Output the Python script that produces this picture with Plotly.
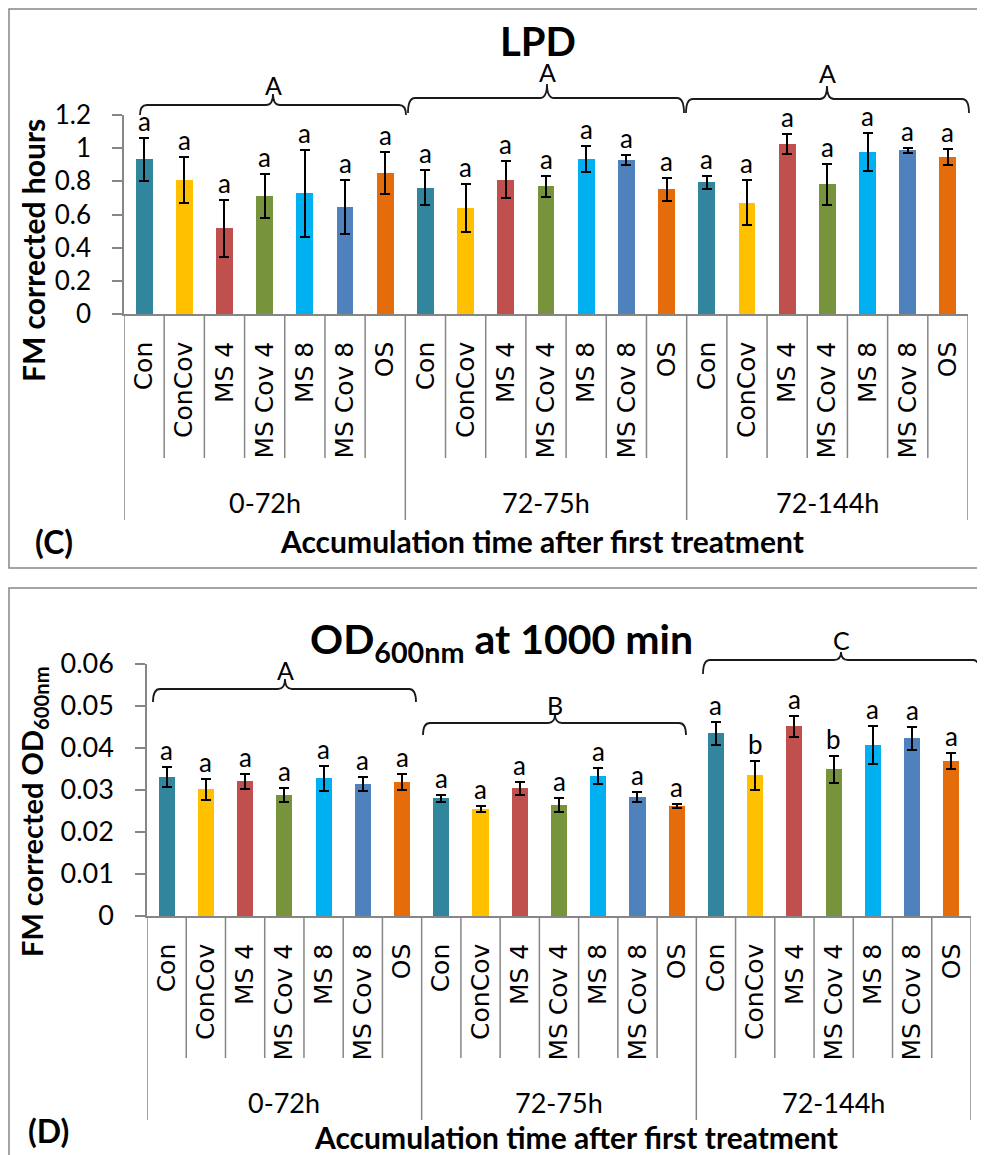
import plotly.graph_objects as go

# ---------------- data ----------------
categories = ["Con", "ConCov", "MS 4", "MS Cov 4", "MS 8", "MS Cov 8", "OS"]
groups = ["0-72h", "72-75h", "72-144h"]
colors = ["#31859C", "#FFC000", "#C0504D", "#77933C", "#00B0F0", "#4F81BD", "#E46C0A"]

lpd_mean = [0.932, 0.81, 0.516, 0.714, 0.727, 0.646, 0.85,
            0.762, 0.637, 0.811, 0.77, 0.936, 0.93, 0.751,
            0.793, 0.671, 1.026, 0.782, 0.978, 0.986, 0.949]
lpd_err = [0.127, 0.138, 0.17, 0.133, 0.26, 0.163, 0.127,
           0.105, 0.145, 0.112, 0.063, 0.078, 0.029, 0.07,
           0.04, 0.135, 0.06, 0.125, 0.113, 0.016, 0.048]
lpd_letters = ["a"] * 21
lpd_group_letters = ["A", "A", "A"]

od_mean = [0.0330, 0.0302, 0.0321, 0.0288, 0.0328, 0.0314, 0.0319,
           0.0280, 0.0254, 0.0304, 0.0264, 0.0333, 0.0283, 0.0262,
           0.0435, 0.0335, 0.0452, 0.0349, 0.0407, 0.0423, 0.0369]
od_err = [0.0024, 0.0025, 0.0018, 0.0016, 0.0030, 0.0017, 0.0019,
          0.0009, 0.0007, 0.0016, 0.0016, 0.0019, 0.0012, 0.0005,
          0.0027, 0.0034, 0.0025, 0.0033, 0.0045, 0.0028, 0.0020]
od_letters = ["a"] * 7 + ["a"] * 7 + ["a", "b", "a", "b", "a", "a", "a"]
od_group_letters = ["A", "B", "C"]

lpd_ticks = [0, 0.2, 0.4, 0.6, 0.8, 1, 1.2]
lpd_ticktext = ["0", "0.2", "0.4", "0.6", "0.8", "1", "1.2"]
od_ticks = [0, 0.01, 0.02, 0.03, 0.04, 0.05, 0.06]
od_ticktext = ["0", "0.01", "0.02", "0.03", "0.04", "0.05", "0.06"]

# ---------------- layout helpers ----------------
W, H = 985, 1155
OFF = 8  # page body margin: figure starts 8px in from the top-left of the window
def px(x):
    return (x - OFF) / W
def py(y):
    return 1 - (y - OFF) / H

CAL = "Lato, 'Open Sans', sans-serif"
VER = "'DejaVu Sans', Verdana, sans-serif"
GREY = "#868686"

n = len(categories) * len(groups)
xs = list(range(n))
cat_labels = categories * len(groups)
bar_colors = colors * len(groups)

fig = go.Figure()
fig.add_trace(go.Bar(x=xs, y=lpd_mean, width=0.42, marker=dict(color=bar_colors, line=dict(width=0)),
                     error_y=dict(type="data", array=lpd_err, visible=True, color="black", thickness=2, width=5),
                     xaxis="x", yaxis="y", showlegend=False))
fig.add_trace(go.Bar(x=xs, y=od_mean, width=0.41, marker=dict(color=bar_colors, line=dict(width=0)),
                     error_y=dict(type="data", array=od_err, visible=True, color="black", thickness=2, width=5),
                     xaxis="x2", yaxis="y2", showlegend=False))

# panel geometry (pixels in the window)
P1 = dict(x0=124, x1=968, y0=115, y1=314, tick_end=458, div_end=520)
P2 = dict(x0=147, x1=971, y0=664, y1=916, tick_end=1058, div_end=1120)

xcommon = dict(range=[-0.5, n - 0.5], tickmode="array", tickvals=xs, ticktext=cat_labels,
               tickangle=-90, tickfont=dict(family=VER, size=25, color="black"),
               showline=True, linecolor=GREY, linewidth=1.5, ticks="", showgrid=False,
               zeroline=False, fixedrange=True, ticklabelstandoff=16, automargin=False)
ycommon = dict(showline=True, linecolor=GREY, linewidth=1.5, ticks="outside", ticklen=10,
               tickcolor=GREY, tickwidth=1.5, showgrid=False, zeroline=False, automargin=False,
               tickfont=dict(family=CAL, size=26, color="black"), ticklabelstandoff=16)

fig.update_layout(
    template="none",
    width=W, height=H, margin=dict(l=0, r=0, t=0, b=0, pad=0), autosize=False,
    paper_bgcolor="white", plot_bgcolor="white", bargap=0, showlegend=False,
    xaxis=dict(domain=[px(P1["x0"]), px(P1["x1"])], anchor="y", **xcommon),
    yaxis=dict(domain=[py(P1["y1"]), py(P1["y0"])], anchor="x", range=[0, 1.2],
               tickvals=lpd_ticks, ticktext=lpd_ticktext, **ycommon),
    xaxis2=dict(domain=[px(P2["x0"]), px(P2["x1"])], anchor="y2", **xcommon),
    yaxis2=dict(domain=[py(P2["y1"]), py(P2["y0"])], anchor="x2", range=[0, 0.06],
                tickvals=od_ticks, ticktext=od_ticktext, **ycommon),
)
fig.update_layout(yaxis2_tickfont_size=27)

shapes = []
annotations = []

def ann(x, y, text, size, family=CAL, angle=0, xref="paper", yref="paper", yanchor="middle"):
    annotations.append(dict(xref=xref, yref=yref, x=x, y=y, text=text, showarrow=False, textangle=angle,
                            xanchor="center", yanchor=yanchor, borderpad=0,
                            font=dict(family=family, size=size, color="black")))

# panel borders (left edges kept just inside the drawable area)
shapes.append(dict(type="rect", xref="paper", yref="paper", x0=px(9), x1=px(1000), y0=py(9), y1=py(568),
                   line=dict(color=GREY, width=1.5), layer="below"))
shapes.append(dict(type="rect", xref="paper", yref="paper", x0=px(9), x1=px(1000), y0=py(588), y1=py(1175),
                   line=dict(color=GREY, width=1.5), layer="below"))

def category_frame(P, xref):
    for k in range(n + 1):
        is_div = (k % len(categories) == 0)
        shapes.append(dict(type="line", xref=xref, yref="paper", x0=k - 0.5, x1=k - 0.5,
                           y0=py(P["y1"]), y1=py(P["div_end"] if is_div else P["tick_end"]),
                           line=dict(color=GREY, width=1.5)))
    for g, name in enumerate(groups):
        ann(g * len(categories) + 3, py((P["tick_end"] + P["div_end"]) / 2 + 13), name, 27, xref=xref)

category_frame(P1, "x")
category_frame(P2, "x2")

def brace(x0, x1, xm, yline, yend, ypeak, r=7):
    X = px
    Y = py
    return (f"M {X(x0)},{Y(yend)} Q {X(x0)},{Y(yline)} {X(x0 + r)},{Y(yline)} "
            f"L {X(xm - r)},{Y(yline)} Q {X(xm)},{Y(yline)} {X(xm)},{Y(ypeak)} "
            f"Q {X(xm)},{Y(yline)} {X(xm + r)},{Y(yline)} "
            f"L {X(x1 - r)},{Y(yline)} Q {X(x1)},{Y(yline)} {X(x1)},{Y(yend)}")

top_braces = [(140, 406, 273, 105, 115, 94, 85), (408, 684, 547, 98, 113, 84, 72), (686, 969, 827, 99, 113, 86, 73)]
bot_braces = [(153, 416, 285, 689, 702, 679, 670), (423, 686, 555, 723, 735, 714, 705), (703, 980, 841, 660, 674, 652, 640)]
for (b, lab) in list(zip(top_braces, lpd_group_letters)) + list(zip(bot_braces, od_group_letters)):
    x0, x1, xm, yl, ye, yp, yt = b
    shapes.append(dict(type="path", xref="paper", yref="paper", path=brace(x0, x1, xm, yl, ye, yp),
                       line=dict(color="#1a1a1a", width=1.8)))
    ann(px(xm), py(yt), lab, 25)

# significance letters
for i in range(n):
    ann(i, lpd_mean[i] + lpd_err[i], lpd_letters[i], 26, xref="x", yref="y", yanchor="bottom")
    ann(i, od_mean[i] + od_err[i], od_letters[i], 26, xref="x2", yref="y2", yanchor="bottom")

# titles
ann(px(538), py(41), "<b>LPD</b>", 40)
ann(px(501), py(641), "<b>OD<sub>600nm</sub> at 1000 min</b>", 41)
# axis titles
ann(px(33), py(251), "<b>FM corrected hours</b>", 30, angle=-90)
ann(px(33), py(812), "<b>FM corrected OD<sub>600nm</sub></b>", 29, angle=-90)
ann(px(542), py(541), "<b>Accumulation time after first treatment</b>", 30)
ann(px(576), py(1137), "<b>Accumulation time after first treatment</b>", 30)
ann(px(54), py(542), "<b>(C)</b>", 32)
ann(px(48), py(1130), "<b>(D)</b>", 32)

fig.update_layout(shapes=shapes, annotations=annotations)
fig.write_html("out.html")
